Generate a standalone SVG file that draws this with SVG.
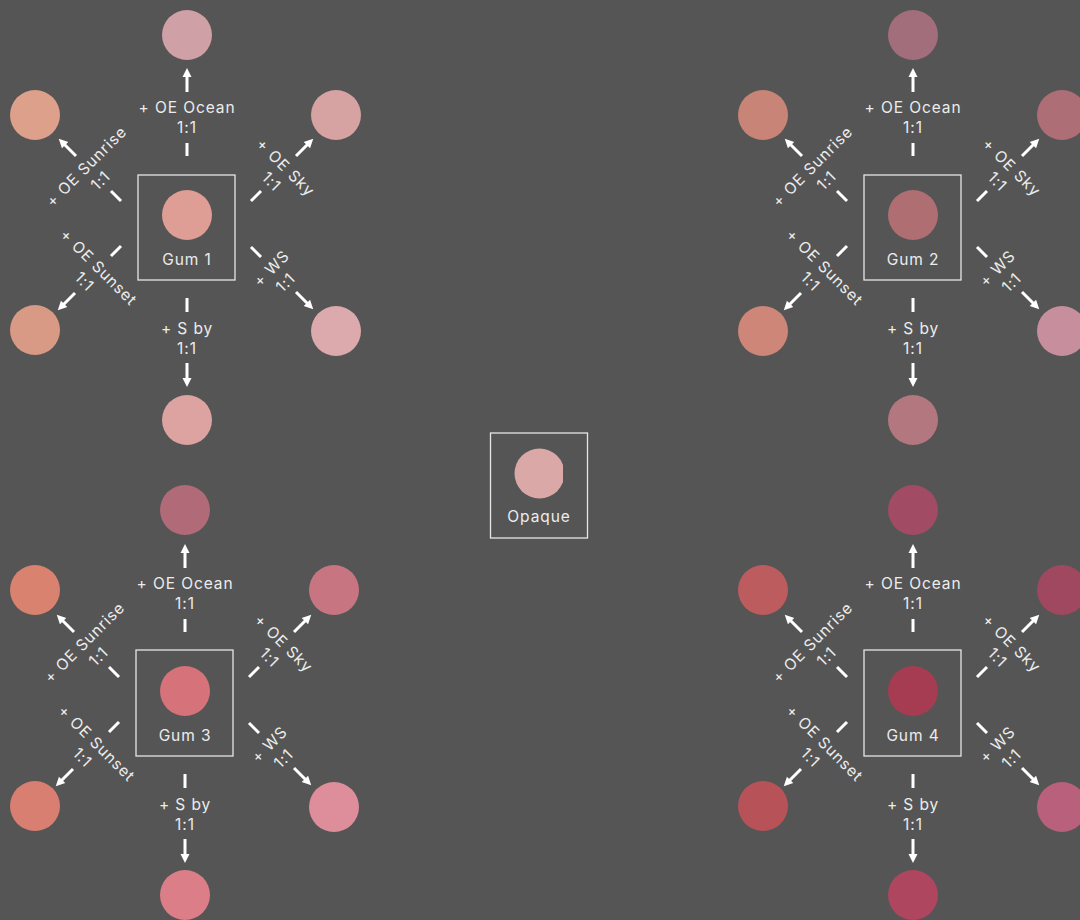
<svg xmlns="http://www.w3.org/2000/svg" width="1080" height="920" viewBox="0 0 1080 920">
<style>
.box{fill:none;stroke:#e6e6e6;stroke-width:1.3}
.t{font-family:Inter,"Open Sans","Liberation Sans",sans-serif;font-size:15.5px;fill:#ececec;text-anchor:middle;letter-spacing:0.9px}
.dash{stroke:#fff;stroke-width:3;fill:none}
.arr{stroke:#fff;stroke-width:3;fill:none;marker-end:url(#ah)}
</style>
<defs>
<marker id="ah" markerUnits="userSpaceOnUse" markerWidth="10" markerHeight="10" viewBox="0 0 10 10" refX="3" refY="5" orient="auto">
<path d="M0,0.5 L9,5 L0,9.5 z" fill="#fff"/>
</marker>
<clipPath id="opclip"><rect x="500" y="440" width="63" height="70"/></clipPath>
</defs>
<rect width="1080" height="920" fill="#555555"/>

<!-- Gum 1 cluster -->
<g id="cluster-gum1" transform="translate(187,215)">
 <g id="gum1"><rect class="box" x="-49" y="-40" width="97" height="105"/><circle r="25" fill="#DE9D95"/><text class="t" y="50">Gum 1</text></g>
 <g id="gum1-ocean"><circle cy="-180" r="25" fill="#CFA0A6"/></g>
 <g id="gum1-sunrise"><circle cx="-152" cy="-100" r="25" fill="#DDA08B"/></g>
 <g id="gum1-sky"><circle cx="149" cy="-100" r="25" fill="#D6A2A2"/></g>
 <g id="gum1-sunset"><circle cx="-152" cy="115" r="25" fill="#D89A84"/></g>
 <g id="gum1-ws"><circle cx="149" cy="116" r="25" fill="#DCAAAC"/></g>
 <g id="gum1-sby"><circle cy="205" r="25" fill="#DDA3A0"/></g>
 <g id="gum1-connectors">
  <path class="dash" d="M0,-72V-59M0,83V97M-76,-24L-66,-14M64,-14L74,-24M-76,41L-66,31M64,32L74,42"/>
  <path class="arr" d="M0,-123V-141"/><path class="arr" d="M0,148V166"/>
  <path class="arr" d="M-111,-59L-124,-72"/><path class="arr" d="M109,-59L122,-72"/>
  <path class="arr" d="M-112,78L-125,91"/><path class="arr" d="M109,77L122,90"/>
  <g transform="translate(0,-97)"><text class="t" y="-5">+ OE Ocean</text><text class="t" y="15">1:1</text></g>
  <g transform="translate(0,123)"><text class="t" y="-4">+ S by</text><text class="t" y="16">1:1</text></g>
  <g transform="translate(-94,-42) rotate(-45)"><text class="t" y="-4">+ OE Sunrise</text><text class="t" y="16">1:1</text></g>
  <g transform="translate(92,-41) rotate(45)"><text class="t" y="-4">+ OE Sky</text><text class="t" y="16">1:1</text></g>
  <g transform="translate(-95,59) rotate(45)"><text class="t" y="-4">+ OE Sunset</text><text class="t" y="16">1:1</text></g>
  <g transform="translate(91,60) rotate(-45)"><text class="t" y="-4">+ WS</text><text class="t" y="16">1:1</text></g>
 </g>
</g>

<!-- Gum 2 cluster -->
<g id="cluster-gum2" transform="translate(913,215)">
 <g id="gum2"><rect class="box" x="-49" y="-40" width="97" height="105"/><circle r="25" fill="#AF6E72"/><text class="t" y="50">Gum 2</text></g>
 <g id="gum2-ocean"><circle cy="-180" r="25" fill="#A36E7C"/></g>
 <g id="gum2-sunrise"><circle cx="-150" cy="-100" r="25" fill="#C98478"/></g>
 <g id="gum2-sky"><circle cx="149" cy="-100" r="25" fill="#AD6E76"/></g>
 <g id="gum2-sunset"><circle cx="-150" cy="116" r="25" fill="#CE8678"/></g>
 <g id="gum2-ws"><circle cx="149" cy="116" r="25" fill="#C78E9E"/></g>
 <g id="gum2-sby"><circle cy="205" r="25" fill="#B3787F"/></g>
 <g id="gum2-connectors">
  <path class="dash" d="M0,-72V-59M0,83V97M-76,-24L-66,-14M64,-14L74,-24M-76,41L-66,31M64,32L74,42"/>
  <path class="arr" d="M0,-123V-141"/><path class="arr" d="M0,148V166"/>
  <path class="arr" d="M-111,-59L-124,-72"/><path class="arr" d="M109,-59L122,-72"/>
  <path class="arr" d="M-112,78L-125,91"/><path class="arr" d="M109,77L122,90"/>
  <g transform="translate(0,-97)"><text class="t" y="-5">+ OE Ocean</text><text class="t" y="15">1:1</text></g>
  <g transform="translate(0,123)"><text class="t" y="-4">+ S by</text><text class="t" y="16">1:1</text></g>
  <g transform="translate(-94,-42) rotate(-45)"><text class="t" y="-4">+ OE Sunrise</text><text class="t" y="16">1:1</text></g>
  <g transform="translate(92,-41) rotate(45)"><text class="t" y="-4">+ OE Sky</text><text class="t" y="16">1:1</text></g>
  <g transform="translate(-95,59) rotate(45)"><text class="t" y="-4">+ OE Sunset</text><text class="t" y="16">1:1</text></g>
  <g transform="translate(91,60) rotate(-45)"><text class="t" y="-4">+ WS</text><text class="t" y="16">1:1</text></g>
 </g>
</g>

<!-- Gum 3 cluster -->
<g id="cluster-gum3" transform="translate(185,691)">
 <g id="gum3"><rect class="box" x="-49" y="-41" width="97" height="106"/><circle r="25" fill="#D6727A"/><text class="t" y="50">Gum 3</text></g>
 <g id="gum3-ocean"><circle cy="-181" r="25" fill="#B06A78"/></g>
 <g id="gum3-sunrise"><circle cx="-150" cy="-101" r="25" fill="#DA8270"/></g>
 <g id="gum3-sky"><circle cx="149" cy="-101" r="25" fill="#C87582"/></g>
 <g id="gum3-sunset"><circle cx="-150" cy="115" r="25" fill="#D97F72"/></g>
 <g id="gum3-ws"><circle cx="149" cy="116" r="25" fill="#DD8E9A"/></g>
 <g id="gum3-sby"><circle cy="204" r="25" fill="#DC7E88"/></g>
 <g id="gum3-connectors">
  <path class="dash" d="M0,-72V-59M0,83V97M-76,-24L-66,-14M64,-14L74,-24M-76,41L-66,31M64,32L74,42"/>
  <path class="arr" d="M0,-123V-141"/><path class="arr" d="M0,148V166"/>
  <path class="arr" d="M-111,-59L-124,-72"/><path class="arr" d="M109,-59L122,-72"/>
  <path class="arr" d="M-112,78L-125,91"/><path class="arr" d="M109,77L122,90"/>
  <g transform="translate(0,-97)"><text class="t" y="-5">+ OE Ocean</text><text class="t" y="15">1:1</text></g>
  <g transform="translate(0,123)"><text class="t" y="-4">+ S by</text><text class="t" y="16">1:1</text></g>
  <g transform="translate(-94,-42) rotate(-45)"><text class="t" y="-4">+ OE Sunrise</text><text class="t" y="16">1:1</text></g>
  <g transform="translate(92,-41) rotate(45)"><text class="t" y="-4">+ OE Sky</text><text class="t" y="16">1:1</text></g>
  <g transform="translate(-95,59) rotate(45)"><text class="t" y="-4">+ OE Sunset</text><text class="t" y="16">1:1</text></g>
  <g transform="translate(91,60) rotate(-45)"><text class="t" y="-4">+ WS</text><text class="t" y="16">1:1</text></g>
 </g>
</g>

<!-- Gum 4 cluster -->
<g id="cluster-gum4" transform="translate(913,691)">
 <g id="gum4"><rect class="box" x="-49" y="-41" width="97" height="106"/><circle r="25" fill="#A53C52"/><text class="t" y="50">Gum 4</text></g>
 <g id="gum4-ocean"><circle cy="-181" r="25" fill="#A14B64"/></g>
 <g id="gum4-sunrise"><circle cx="-150" cy="-101" r="25" fill="#BC5C5E"/></g>
 <g id="gum4-sky"><circle cx="149" cy="-101" r="25" fill="#A04860"/></g>
 <g id="gum4-sunset"><circle cx="-150" cy="115" r="25" fill="#B75358"/></g>
 <g id="gum4-ws"><circle cx="149" cy="116" r="25" fill="#B9607C"/></g>
 <g id="gum4-sby"><circle cy="204" r="25" fill="#AE4660"/></g>
 <g id="gum4-connectors">
  <path class="dash" d="M0,-72V-59M0,83V97M-76,-24L-66,-14M64,-14L74,-24M-76,41L-66,31M64,32L74,42"/>
  <path class="arr" d="M0,-123V-141"/><path class="arr" d="M0,148V166"/>
  <path class="arr" d="M-111,-59L-124,-72"/><path class="arr" d="M109,-59L122,-72"/>
  <path class="arr" d="M-112,78L-125,91"/><path class="arr" d="M109,77L122,90"/>
  <g transform="translate(0,-97)"><text class="t" y="-5">+ OE Ocean</text><text class="t" y="15">1:1</text></g>
  <g transform="translate(0,123)"><text class="t" y="-4">+ S by</text><text class="t" y="16">1:1</text></g>
  <g transform="translate(-94,-42) rotate(-45)"><text class="t" y="-4">+ OE Sunrise</text><text class="t" y="16">1:1</text></g>
  <g transform="translate(92,-41) rotate(45)"><text class="t" y="-4">+ OE Sky</text><text class="t" y="16">1:1</text></g>
  <g transform="translate(-95,59) rotate(45)"><text class="t" y="-4">+ OE Sunset</text><text class="t" y="16">1:1</text></g>
  <g transform="translate(91,60) rotate(-45)"><text class="t" y="-4">+ WS</text><text class="t" y="16">1:1</text></g>
 </g>
</g>

<!-- Opaque -->
<g id="opaque">
 <rect class="box" x="490.5" y="433" width="97" height="105"/>
 <circle cx="539.5" cy="473.5" r="25" fill="#DBA8A8" clip-path="url(#opclip)"/>
 <text class="t" x="539" y="522">Opaque</text>
</g>
</svg>
